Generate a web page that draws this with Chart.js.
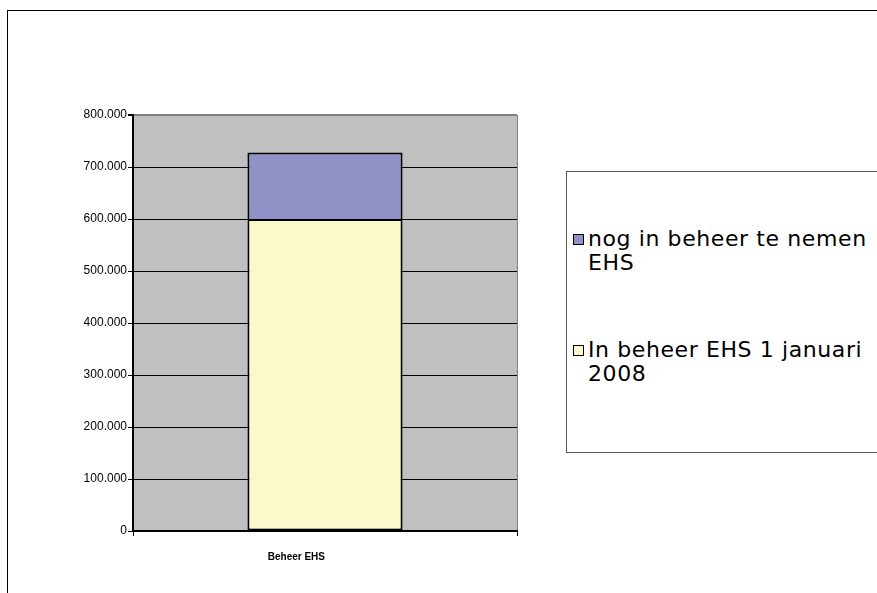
<!DOCTYPE html>
<html>
<head>
<meta charset="utf-8">
<script src="https://cdn.jsdelivr.net/npm/chart.js@4/dist/chart.umd.min.js"></script>
<style>
  html, body { margin: 0; padding: 0; background: #fff; overflow: hidden; }
  #wrap { position: relative; width: 877px; height: 593px; }
  #frame { position: absolute; left: 7px; top: 10px; width: 900px; height: 600px;
           border-left: 1px solid #000; border-top: 1px solid #000; }
  #myChart { position: absolute; left: 0; top: 0; }
  #legend { position: absolute; left: 566px; top: 171px; width: 330px; height: 280px;
            border: 1px solid #555; background: #fff;
            font-family: "DejaVu Sans", sans-serif; font-size: 22px; letter-spacing: 0.6px; color: #000; }
  .item { position: absolute; left: 6px; width: 320px; line-height: 24px; }
  .box { position: absolute; left: 0; top: 7px; width: 9px; height: 9px; border: 1px solid #000; }
  .txt { position: absolute; left: 15px; width: 310px; white-space: pre; }
</style>
</head>
<body>
<div id="wrap">
  <div id="frame"></div>
  <canvas id="myChart" width="877" height="593"></canvas>
  <div id="legend"></div>
</div>
<script>
(function () {
  "use strict";

  const categories = ["Beheer EHS"];
  const inBeheer = [600000];        // In beheer EHS 1 januari 2008
  const nogTeNemen = [128000];      // nog in beheer te nemen EHS
  const yTicks = [0, 100000, 200000, 300000, 400000, 500000, 600000, 700000, 800000];

  const legendItems = [
    { lines: ["nog in beheer te nemen", "EHS"], color: "#9191c7", top: 55 },
    { lines: ["In beheer EHS 1 januari", "2008"], color: "#fbf8cc", top: 166 }
  ];

  const fmt = function (v) {
    return String(v).replace(/\B(?=(\d{3})+(?!\d))/g, ".");
  };

  const plotBg = {
    id: "plotBg",
    beforeDraw: function (chart) {
      const a = chart.chartArea;
      const ctx = chart.ctx;
      ctx.save();
      ctx.fillStyle = "#c0c0c0";
      ctx.fillRect(a.left, a.top, a.right - a.left, a.bottom - a.top);
      ctx.restore();
    }
  };

  const ctx = document.getElementById("myChart").getContext("2d");
  new Chart(ctx, {
    type: "bar",
    data: {
      labels: categories,
      datasets: [
        {
          label: "In beheer EHS 1 januari 2008",
          data: inBeheer,
          backgroundColor: "#fbf8cc",
          borderColor: "#000",
          borderWidth: 2,
          borderSkipped: false
        },
        {
          label: "nog in beheer te nemen EHS",
          data: nogTeNemen,
          backgroundColor: "#9191c7",
          borderColor: "#000",
          borderWidth: 2,
          borderSkipped: "start"
        }
      ]
    },
    options: {
      responsive: false,
      animation: false,
      events: [],
      layout: { padding: { top: 115, left: 0, right: 360, bottom: 0 } },
      datasets: { bar: { barPercentage: 0.404, categoryPercentage: 1 } },
      plugins: { legend: { display: false }, tooltip: { enabled: false } },
      scales: {
        x: {
          stacked: true,
          afterFit: function (s) { s.height = 62; },
          grid: {
            offset: true,
            color: function (c) { return c.index === 0 ? "rgba(0,0,0,0)" : "#808080"; },
            tickColor: "#000",
            tickLength: 5,
            lineWidth: 1
          },
          border: { color: "#000", width: 2 },
          ticks: {
            color: "#000",
            align: "end",
            padding: 15,
            font: { family: "Liberation Sans", size: 10, weight: "bold" }
          }
        },
        y: {
          stacked: true,
          min: 0,
          max: 800000,
          afterFit: function (s) { s.width = 133; },
          afterBuildTicks: function (s) {
            s.ticks = yTicks.map(function (v) { return { value: v }; });
          },
          grid: {
            color: function (c) { return c.tick && c.tick.value === 800000 ? "#808080" : "#000"; },
            tickColor: "#000",
            tickLength: 5,
            lineWidth: function (c) { return c.tick && c.tick.value === 800000 ? 2 : 1; }
          },
          border: { color: "#000", width: 2 },
          ticks: {
            color: "#000",
            padding: 1,
            font: { family: "Liberation Sans", size: 12 },
            callback: function (v) { return fmt(v); }
          }
        }
      }
    },
    plugins: [plotBg]
  });

  const legend = document.getElementById("legend");
  legendItems.forEach(function (it) {
    const d = document.createElement("div");
    d.className = "item";
    d.style.top = it.top + "px";
    const b = document.createElement("div");
    b.className = "box";
    b.style.background = it.color;
    const t = document.createElement("div");
    t.className = "txt";
    t.textContent = it.lines.join("\n");
    d.appendChild(b);
    d.appendChild(t);
    legend.appendChild(d);
  });
})();
</script>
</body>
</html>
